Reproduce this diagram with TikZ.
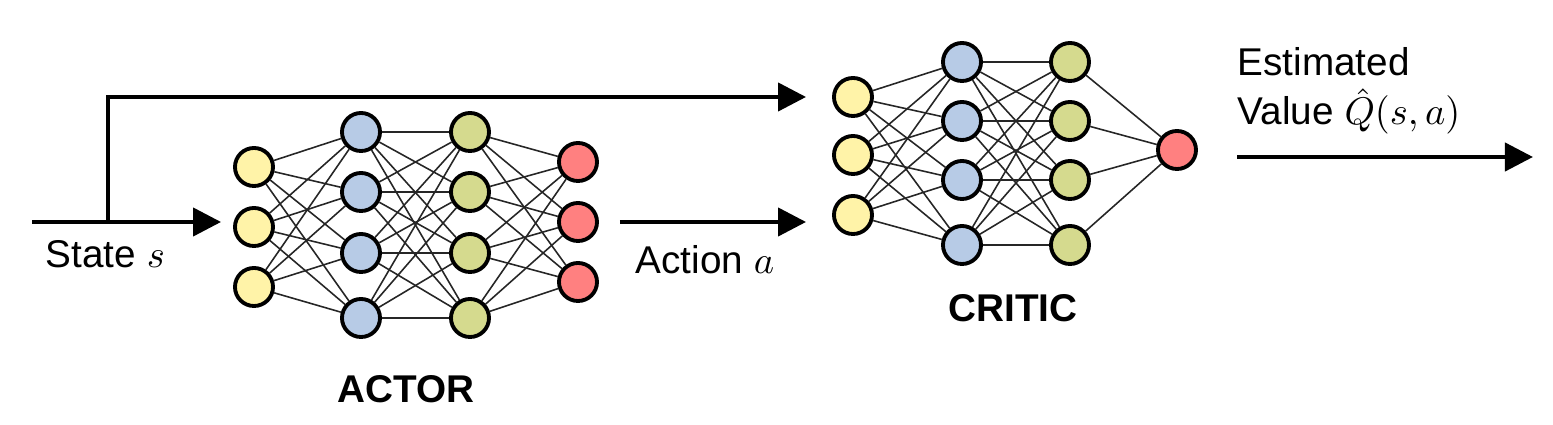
\documentclass[tikz,border=0pt]{standalone}
\usepackage{fontspec}
\setmainfont{Liberation Sans}
\usetikzlibrary{arrows.meta, positioning}
\definecolor{inyellow}{HTML}{FFF3A8}
\definecolor{hidblue}{HTML}{B7CBE6}
\definecolor{hidgreen}{HTML}{D5DA8E}
\definecolor{outred}{HTML}{FF8080}

\begin{document}
\begin{tikzpicture}[
    x=0.01cm, y=-0.01cm,
    neuron/.style={circle, draw, line width=1.1pt, minimum size=0.38cm, inner sep=0pt},
    link/.style={draw=black!85, line width=0.45pt},
    arr/.style={-{Triangle[length=0.28cm, width=0.28cm]}, line width=1.2pt},
    lbl/.style={font=\fontsize{11}{14.2}\selectfont, inner sep=0pt},
    title/.style={font=\fontsize{11}{13}\selectfont\bfseries}
]
\useasboundingbox (0,0) rectangle (1553,425);

% Actor network
\foreach \i/\y in {1/167, 2/227, 3/287}
    \node[neuron, fill=inyellow] (a1-\i) at (254,\y) {};
\foreach \i/\y in {1/132, 2/192, 3/253, 4/318} {
    \node[neuron, fill=hidblue] (a2-\i) at (361,\y) {};
    \node[neuron, fill=hidgreen] (a3-\i) at (470,\y) {};
}
\foreach \i/\y in {1/162, 2/222, 3/282}
    \node[neuron, fill=outred] (a4-\i) at (578,\y) {};

\foreach \i in {1,2,3} \foreach \j in {1,...,4} {
    \draw[link] (a1-\i) -- (a2-\j);
    \draw[link] (a3-\j) -- (a4-\i);
}
\foreach \i in {1,...,4} \foreach \j in {1,...,4}
    \draw[link] (a2-\i) -- (a3-\j);

% Critic network
\foreach \i/\y in {1/97, 2/155, 3/215}
    \node[neuron, fill=inyellow] (c1-\i) at (853,\y) {};
\foreach \i/\y in {1/62, 2/121, 3/180, 4/245} {
    \node[neuron, fill=hidblue] (c2-\i) at (962,\y) {};
    \node[neuron, fill=hidgreen] (c3-\i) at (1070,\y) {};
}
\node[neuron, fill=outred] (c4-1) at (1177,150) {};

\foreach \i in {1,2,3} \foreach \j in {1,...,4}
    \draw[link] (c1-\i) -- (c2-\j);
\foreach \i in {1,...,4} {
    \foreach \j in {1,...,4}
        \draw[link] (c2-\i) -- (c3-\j);
    \draw[link] (c3-\i) -- (c4-1);
}

% Signal flow
\coordinate (sin) at (32,222);
\coordinate (sbr) at (108,222);
\coordinate (qout) at (1237,157);
\draw[arr] (sin) -- (sin -| a1-2.west) [shorten >=0.12cm];
\draw[arr, shorten >=0.26cm] (sbr) |- (c1-1.west);
\draw[arr] ([xshift=0.21cm]a4-2.east) -- ([xshift=-0.26cm]c1-3.west |- a4-2);
\draw[arr] (qout) -- ++(296,0);

% Labels
\node[lbl, anchor=base west] (slbl) at (45,268) {State $s$};
\node[lbl, anchor=base west] (albl) at (635,274) {Action $a$};
\node[lbl, anchor=base west, align=left] (qlbl) at (1237,125) {Estimated\\Value $\hat{Q}(s,a)$};
\node[title, anchor=base] (actor) at (406,403) {ACTOR};
\node[title, anchor=base] (critic) at (1013,322) {CRITIC};
\end{tikzpicture}
\end{document}
